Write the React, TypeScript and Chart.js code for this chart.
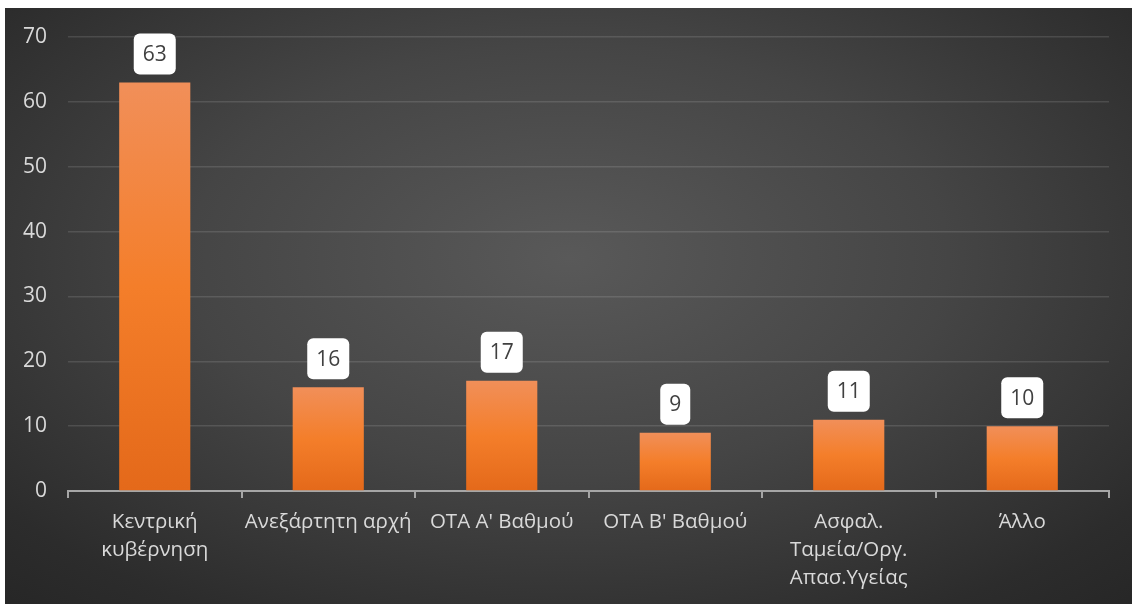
import React, { useEffect, useRef } from "react";
import { Chart, registerables } from "chart.js";

Chart.register(...registerables);

const categories: string[][] = [
  ["Κεντρική", "κυβέρνηση"],
  ["Ανεξάρτητη αρχή"],
  ["ΟΤΑ Α' Βαθμού"],
  ["ΟΤΑ Β' Βαθμού"],
  ["Ασφαλ.", "Ταμεία/Οργ.", "Απασ.Υγείας"],
  ["Άλλο"],
];
const values: number[] = [63, 16, 17, 9, 11, 10];
const yTicks: number[] = [0, 10, 20, 30, 40, 50, 60, 70];

const FONT = "'Open Sans', 'Noto Sans', sans-serif";

const labelPlugin = {
  id: "boxLabels",
  afterDatasetsDraw(chart: any) {
    const ctx = chart.ctx;
    const meta = chart.getDatasetMeta(0);
    ctx.save();
    ctx.font = `21px ${FONT}`;
    ctx.textAlign = "center";
    ctx.textBaseline = "middle";
    meta.data.forEach((bar: any, i: number) => {
      const text = String(values[i]);
      const tw = ctx.measureText(text).width;
      const w = tw + 18;
      const h = 41;
      const x = bar.x - w / 2;
      const y = bar.y - 8 - h;
      ctx.fillStyle = "#ffffff";
      ctx.beginPath();
      (ctx as any).roundRect(x, y, w, h, 6);
      ctx.fill();
      ctx.fillStyle = "#404040";
      ctx.fillText(text, bar.x, y + h / 2 + 1);
    });
    ctx.restore();
  },
};

export default function App() {
  const ref = useRef<HTMLCanvasElement>(null);
  useEffect(() => {
    if (!ref.current) return;
    const chart = new Chart(ref.current, {
      type: "bar",
      data: {
        labels: categories,
        datasets: [
          {
            data: values,
            backgroundColor: (c: any) => {
              const ch = c.chart;
              const ys = ch.scales && ch.scales.y;
              if (!ys || c.dataIndex === undefined) return "#F47E2B";
              const top = ys.getPixelForValue(values[c.dataIndex]);
              const bottom = ys.getPixelForValue(0);
              if (!isFinite(top) || !isFinite(bottom)) return "#F47E2B";
              const g = ch.ctx.createLinearGradient(0, top, 0, bottom);
              g.addColorStop(0, "#F18F59");
              g.addColorStop(0.5, "#F47E2A");
              g.addColorStop(1, "#E4691A");
              return g;
            },
            borderWidth: 0,
            categoryPercentage: 1,
            barPercentage: 0.41,
          },
        ],
      },
      options: {
        animation: false,
        responsive: false,
        maintainAspectRatio: false,
        layout: { padding: { top: 29, right: 23, left: 0, bottom: 0 } },
        plugins: {
          legend: { display: false },
          tooltip: { enabled: false },
        },
        scales: {
          x: {
            grid: {
              display: true,
              drawOnChartArea: false,
              drawTicks: true,
              tickLength: 7,
              color: "#a6a6a6",
              lineWidth: 2,
              offset: true,
            },
            border: { display: true, color: "#a6a6a6", width: 2 },
            ticks: {
              color: "#d9d9d9",
              font: { family: FONT, size: 20.5, lineHeight: 1.37 },
              padding: 10,
              maxRotation: 0,
              autoSkip: false,
            },
            afterFit: (s: any) => {
              s.height = 113;
              s.paddingLeft = 0;
              s.paddingRight = 0;
            },
          },
          y: {
            min: 0,
            max: 70,
            afterBuildTicks: (s: any) => {
              s.ticks = yTicks.map((v) => ({ value: v }));
            },
            grid: {
              color: "rgba(255,255,255,0.12)",
              lineWidth: 1.5,
              drawTicks: false,
            },
            border: { display: false },
            ticks: {
              color: "#d9d9d9",
              font: { family: FONT, size: 21 },
              padding: 21,
            },
            afterFit: (s: any) => {
              s.width = 63;
              s.paddingTop = 0;
              s.paddingBottom = 0;
            },
          },
        },
      },
      plugins: [labelPlugin],
    });
    return () => chart.destroy();
  }, []);
  return (
    <div
      style={{
        position: "absolute",
        left: 5,
        top: 8,
        width: 1127,
        height: 596,
        background:
          "radial-gradient(ellipse 75% 80% at 50% 42%, #595959 0%, #454545 45%, #2c2c2c 85%, #262626 100%)",
      }}
    >
      <canvas ref={ref} width={1127} height={596} style={{ display: "block" }} />
    </div>
  );
}
